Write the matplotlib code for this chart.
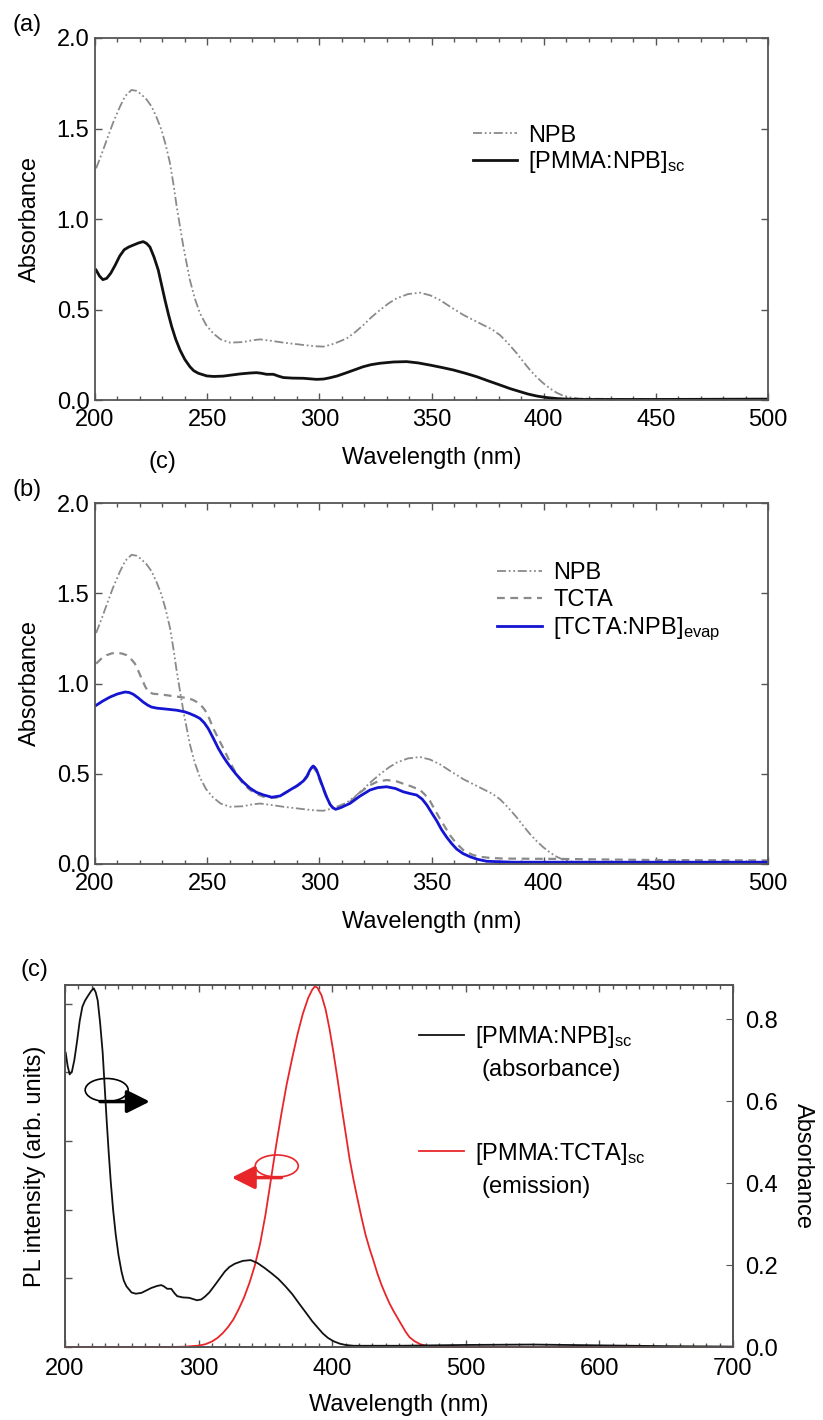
import matplotlib
matplotlib.use('Agg')
import matplotlib.pyplot as plt
from matplotlib.patches import Ellipse
from matplotlib.ticker import MultipleLocator, FormatStrFormatter, NullFormatter

plt.rcParams['font.family'] = ['Liberation Sans', 'DejaVu Sans']
plt.rcParams['mathtext.fontset'] = 'custom'
plt.rcParams['mathtext.rm'] = 'Liberation Sans'
plt.rcParams['mathtext.it'] = 'Liberation Sans:italic'

# ---------------- data ----------------
npb_wl = [200.5, 203, 205.2, 208, 211.1, 213.5, 216.3, 218.5, 220.5, 223, 225.3, 227.5, 229.7,
          231.5, 233.4, 235, 236.4, 238, 239.4, 241, 242.3, 244.5, 246.8, 249.5, 252.7, 256,
          260.2, 266, 270, 273.6, 278, 284, 292.9, 298, 301.8, 305, 307.7, 312.2, 316, 319.6,
          323, 327, 331, 334.5, 339.5, 344.9, 349.5, 353.8, 359, 364.2, 368.5, 373.1, 377,
          380.5, 384, 388, 391, 393.9, 397, 399.9, 403, 405.8, 408.5, 411.7, 416, 430, 500]
npb_abs = [1.28, 1.36, 1.436, 1.53, 1.62, 1.68, 1.713, 1.708, 1.69, 1.66, 1.62, 1.56, 1.49,
           1.41, 1.31, 1.19, 1.07, 0.95, 0.847, 0.745, 0.663, 0.56, 0.479, 0.415, 0.368, 0.335,
           0.317, 0.32, 0.33, 0.335, 0.328, 0.317, 0.304, 0.297, 0.295, 0.305, 0.317, 0.34, 0.375, 0.414,
           0.455, 0.497, 0.535, 0.562, 0.585, 0.593, 0.578, 0.552, 0.51, 0.47, 0.443, 0.414, 0.39,
           0.359, 0.315, 0.258, 0.21, 0.166, 0.125, 0.092, 0.062, 0.04, 0.025, 0.015, 0.008, 0.006, 0.005]

pn_wl = [200.5, 202, 203.5, 205.2, 207, 209, 211, 213, 215, 217.1, 219.5, 221.5, 223, 224.5,
         226.3, 228.2, 229.7, 231.2, 232.7, 234.2, 236, 237.9, 240, 242.3, 244, 246, 249.8, 253,
         257.2, 264.6, 269, 272, 274, 276.5, 279.5, 282, 284, 288, 292.9, 298.8, 302, 304.8,
         308, 312.2, 316, 319.6, 323, 327, 333, 338.9, 344, 349.3, 354.5, 359.7, 365, 370.1,
         375, 380.5, 385, 389.5, 393, 396.9, 401, 405.8, 410, 416, 450, 500, 550, 600, 650, 700]
pn_abs = [0.718, 0.685, 0.665, 0.672, 0.7, 0.745, 0.795, 0.83, 0.845, 0.856, 0.868, 0.875, 0.865, 0.845,
          0.79, 0.718, 0.635, 0.552, 0.475, 0.405, 0.335, 0.276, 0.225, 0.184, 0.162, 0.148, 0.133, 0.13,
          0.132, 0.144, 0.149, 0.151, 0.148, 0.142, 0.142, 0.131, 0.124, 0.121, 0.12, 0.114, 0.116, 0.123,
          0.133, 0.151, 0.168, 0.184, 0.195, 0.203, 0.21, 0.212, 0.205, 0.193, 0.18, 0.166, 0.148, 0.129,
          0.107, 0.083, 0.063, 0.046, 0.033, 0.022, 0.014, 0.008, 0.005, 0.003, 0.003, 0.005, 0.006, 0.004, 0.002, 0.001]

tc_wl = [200.5, 203, 205.2, 207.5, 209.7, 212, 214.1, 216, 217.8, 219.3, 220.8, 222.3, 223.8, 226,
         229, 234.9, 240.9, 243.5, 245.3, 247.2, 249, 250.8, 252.7, 255, 257.2, 260, 263.2, 266,
         269.1, 272, 275, 278, 281, 284, 287, 290, 292.9, 294.5, 295.8, 297.3, 298.8, 300.3,
         301.8, 303.3, 304.8, 306, 307.5, 310, 313.7, 318, 322.6, 326, 330, 334, 337.4, 341,
         344.9, 347, 349.3, 351.5, 353.8, 356, 358.2, 361, 364.2, 368, 371.6, 376, 382, 408, 450, 500]
tc_abs = [1.11, 1.14, 1.157, 1.167, 1.17, 1.166, 1.157, 1.137, 1.11, 1.07, 1.027, 0.985, 0.953, 0.943,
          0.94, 0.93, 0.92, 0.91, 0.898, 0.88, 0.853, 0.81, 0.752, 0.695, 0.641, 0.57, 0.493, 0.445,
          0.41, 0.388, 0.373, 0.366, 0.368, 0.39, 0.41, 0.43, 0.455, 0.48, 0.51, 0.535, 0.51, 0.46,
          0.41, 0.365, 0.33, 0.31, 0.30, 0.315, 0.345, 0.395, 0.437, 0.457, 0.465, 0.46, 0.445, 0.43,
          0.41, 0.385, 0.35, 0.30, 0.25, 0.205, 0.16, 0.115, 0.077, 0.052, 0.04, 0.034, 0.03, 0.028, 0.022, 0.02]

bl_wl = [200.5, 203.5, 206.7, 210, 213.4, 215.3, 217.1, 219.3, 221.5, 223.5, 225.3, 227.8, 230.4,
         236.4, 240, 242.3, 244.7, 246.8, 248.7, 250.5, 252.8, 255, 256.9, 258.7, 261, 263.2,
         266, 269.1, 272, 275, 278.8, 282.5, 284.7, 286.9, 290, 292.9, 294.5, 295.8, 296.6, 297.3,
         298, 298.8, 300.3, 301.8, 303.3, 304.8, 306, 307.3, 310, 313.7, 318, 322.6, 326, 330,
         334, 337.4, 340.5, 343.4, 345.8, 347.9, 350, 352.3, 354.5, 356.8, 359, 361.2, 364,
         367.2, 370.5, 374.6, 386.5, 420, 460, 500]
bl_abs = [0.879, 0.903, 0.925, 0.942, 0.953, 0.95, 0.94, 0.92, 0.897, 0.88, 0.869, 0.863, 0.86,
          0.852, 0.843, 0.833, 0.82, 0.806, 0.782, 0.75, 0.695, 0.64, 0.60, 0.566, 0.527, 0.493,
          0.455, 0.42, 0.397, 0.383, 0.37, 0.377, 0.393, 0.41, 0.433, 0.46, 0.487, 0.52, 0.535, 0.543,
          0.535, 0.52, 0.47, 0.419, 0.37, 0.33, 0.312, 0.303, 0.315, 0.336, 0.375, 0.41, 0.423, 0.428,
          0.418, 0.40, 0.39, 0.382, 0.36, 0.327, 0.285, 0.24, 0.19, 0.148, 0.113, 0.083, 0.058,
          0.04, 0.026, 0.015, 0.01, 0.01, 0.01, 0.01]

pl_wl = [200, 280, 290, 300, 305, 310, 314, 318, 322, 326, 330, 334, 338, 342, 346, 350, 354, 358,
         362, 366, 370, 374, 378, 382, 385, 387, 389, 392, 395, 398, 401, 404, 407, 410, 413, 416,
         419, 422, 425, 428, 431, 434, 437, 440, 443, 446, 449, 452, 455, 458, 462, 466, 470, 476, 700]
pl_int = [0, 0, 0.005, 0.02, 0.04, 0.08, 0.13, 0.2, 0.29, 0.4, 0.55, 0.72, 0.93, 1.18, 1.5, 1.92, 2.42, 2.93,
          3.4, 3.83, 4.2, 4.55, 4.85, 5.08, 5.2, 5.25, 5.23, 5.12, 4.92, 4.63, 4.28, 3.9, 3.5, 3.12, 2.74, 2.43,
          2.15, 1.88, 1.63, 1.43, 1.25, 1.06, 0.9, 0.76, 0.63, 0.52, 0.42, 0.32, 0.22, 0.14, 0.08, 0.04, 0.02, 0, 0]

lab_npb = 'NPB'
lab_pn = '[PMMA:NPB]$_{\\mathrm{sc}}$'
lab_tc = 'TCTA'
lab_bl = '[TCTA:NPB]$_{\\mathrm{evap}}$'
lab_pt = '[PMMA:TCTA]$_{\\mathrm{sc}}$'

# ---------------- style ----------------
FS = 17
W, H = 823, 1420
SPC = '#555555'
NPB_C = '#8a8a8a'
NPB_DASH = (0, (5, 1.5, 1, 1.5, 1, 1.5))
TC_C = '#8a8a8a'
BL_C = '#1414d2'
RD_C = '#e8262a'

fig = plt.figure(figsize=(W / 100, H / 100), dpi=100)


def px_axes(l, t, r, b):
    return fig.add_axes([l / W, 1 - b / H, (r - l) / W, (b - t) / H])


def style_axes(ax, right=True):
    for s in ax.spines.values():
        s.set_color(SPC)
        s.set_linewidth(1.3)
    ax.tick_params(which='both', direction='in', top=True, right=right,
                   colors=SPC, labelcolor='black', labelsize=FS, width=1.0)
    ax.tick_params(which='major', length=5)
    ax.tick_params(which='minor', length=3)
    ax.tick_params(axis='x', which='major', pad=6.5)
    ax.tick_params(axis='y', which='major', pad=4)


def legend_line(ax, x0, x1, y, text, tx, hpx, **kw):
    ax.plot([x0, x1], [y, y], transform=ax.transAxes, clip_on=False, **kw)
    ax.text(tx, y - 8.5 / hpx, text, transform=ax.transAxes, fontsize=FS,
            va='baseline', ha='left')


# ---------------- panel (a) ----------------
axa = px_axes(95, 38, 768, 400)
axa.plot(npb_wl, npb_abs, color=NPB_C, lw=1.3, linestyle=NPB_DASH)
axa.plot(pn_wl, pn_abs, color='#111111', lw=2.0)
axa.set_xlim(200, 500)
axa.set_ylim(0, 2.0)
axa.xaxis.set_major_locator(MultipleLocator(50))
axa.xaxis.set_minor_locator(MultipleLocator(10))
axa.yaxis.set_major_locator(MultipleLocator(0.5))
axa.yaxis.set_major_formatter(FormatStrFormatter('%.1f'))
style_axes(axa)
axa.set_xlabel('Wavelength (nm)', fontsize=FS)
axa.set_ylabel('Absorbance', fontsize=FS)
axa.xaxis.set_label_coords(0.5, -0.13)
axa.yaxis.set_label_coords(-0.081, 0.5)
legend_line(axa, 0.561, 0.627, 0.737, lab_npb, 0.644, 362, color=NPB_C, lw=1.3, linestyle=NPB_DASH)
legend_line(axa, 0.561, 0.627, 0.663, lab_pn, 0.644, 362, color='#111111', lw=2.0)

# ---------------- panel (b) ----------------
axb = px_axes(95, 503, 768, 864)
axb.plot(npb_wl, npb_abs, color=NPB_C, lw=1.3, linestyle=NPB_DASH)
axb.plot(tc_wl, tc_abs, color=TC_C, lw=1.6, linestyle=(0, (3.5, 2.5)))
axb.plot(bl_wl, bl_abs, color=BL_C, lw=2.0)
axb.set_xlim(200, 500)
axb.set_ylim(0, 2.0)
axb.xaxis.set_major_locator(MultipleLocator(50))
axb.xaxis.set_minor_locator(MultipleLocator(10))
axb.yaxis.set_major_locator(MultipleLocator(0.5))
axb.yaxis.set_major_formatter(FormatStrFormatter('%.1f'))
style_axes(axb)
axb.set_xlabel('Wavelength (nm)', fontsize=FS)
axb.set_ylabel('Absorbance', fontsize=FS)
axb.xaxis.set_label_coords(0.5, -0.13)
axb.yaxis.set_label_coords(-0.081, 0.5)
legend_line(axb, 0.597, 0.664, 0.812, lab_npb, 0.681, 361, color=NPB_C, lw=1.3, linestyle=NPB_DASH)
legend_line(axb, 0.597, 0.664, 0.738, lab_tc, 0.681, 361, color=TC_C, lw=1.6, linestyle=(0, (3.5, 2.5)))
legend_line(axb, 0.597, 0.664, 0.660, lab_bl, 0.681, 361, color=BL_C, lw=2.0)

# ---------------- panel (c) ----------------
axc = px_axes(65, 985, 733, 1347)
axc.plot(pl_wl, pl_int, color=RD_C, lw=1.3, zorder=3, clip_on=False)
axc.set_xlim(200, 700)
axc.set_ylim(0, 5.27)
axc.xaxis.set_major_locator(MultipleLocator(100))
axc.xaxis.set_minor_locator(MultipleLocator(10))
axc.yaxis.set_major_locator(MultipleLocator(1))
axc.yaxis.set_major_formatter(NullFormatter())
style_axes(axc, right=False)
axc.tick_params(axis='x', which='major', pad=8)
axc.set_xlabel('Wavelength (nm)', fontsize=FS)
axc.set_ylabel('PL intensity (arb. units)', fontsize=FS)
axc.xaxis.set_label_coords(0.5, -0.13)
axc.yaxis.set_label_coords(-0.028, 0.5)

axc2 = axc.twinx()
axc2.plot(pn_wl, pn_abs, color='#111111', lw=1.3)
axc2.set_ylim(0, 0.883)
axc2.yaxis.set_major_locator(MultipleLocator(0.2))
axc2.yaxis.set_major_formatter(FormatStrFormatter('%.1f'))
for s in axc2.spines.values():
    s.set_color(SPC)
    s.set_linewidth(1.3)
axc2.tick_params(axis='y', which='both', direction='in', colors=SPC, labelcolor='black',
                 labelsize=FS, length=5, pad=9)
axc2.set_ylabel('Absorbance', fontsize=FS, rotation=270, va='bottom')
axc2.yaxis.set_label_coords(1.089, 0.5)

# legend (c)
hc = 362
axc.plot([0.530, 0.597], [0.862, 0.862], transform=axc.transAxes, color='#111111', lw=1.3)
axc.text(0.614, 0.862 - 8.5 / hc, lab_pn, transform=axc.transAxes, fontsize=FS, va='baseline')
axc.text(0.624, 0.771 - 8.5 / hc, '(absorbance)', transform=axc.transAxes, fontsize=FS, va='baseline')
axc.plot([0.530, 0.597], [0.541, 0.541], transform=axc.transAxes, color=RD_C, lw=1.3)
axc.text(0.614, 0.541 - 8.5 / hc, lab_pt, transform=axc.transAxes, fontsize=FS, va='baseline')
axc.text(0.624, 0.450 - 8.5 / hc, '(emission)', transform=axc.transAxes, fontsize=FS, va='baseline')

# ellipses and arrows (c)
axc.add_patch(Ellipse((0.0624, 0.710), 0.0644, 0.0635, transform=axc.transAxes,
                      fill=False, ec='black', lw=1.2, zorder=5))
axc.annotate('', xy=(0.127, 0.678), xytext=(0.0524, 0.678), xycoords='axes fraction',
             arrowprops=dict(arrowstyle='-|>,head_length=0.7,head_width=0.35', lw=2.5,
                             color='black', mutation_scale=20, shrinkA=0, shrinkB=0))
axc.add_patch(Ellipse((0.317, 0.500), 0.0644, 0.061, transform=axc.transAxes,
                      fill=False, ec=RD_C, lw=1.2, zorder=5))
axc.annotate('', xy=(0.2496, 0.468), xytext=(0.324, 0.468), xycoords='axes fraction',
             arrowprops=dict(arrowstyle='-|>,head_length=0.7,head_width=0.35', lw=2.5,
                             color=RD_C, mutation_scale=20, shrinkA=0, shrinkB=0))

# panel letters
fig.text(12 / W, 1 - 25 / H, '(a)', fontsize=FS, va='center', ha='left')
fig.text(13 / W, 1 - 490 / H, '(b)', fontsize=FS, va='center', ha='left')
fig.text(148 / W, 1 - 462 / H, '(c)', fontsize=FS, va='center', ha='left')
fig.text(20 / W, 1 - 970 / H, '(c)', fontsize=FS, va='center', ha='left')

fig.savefig('out.png', dpi=100)
